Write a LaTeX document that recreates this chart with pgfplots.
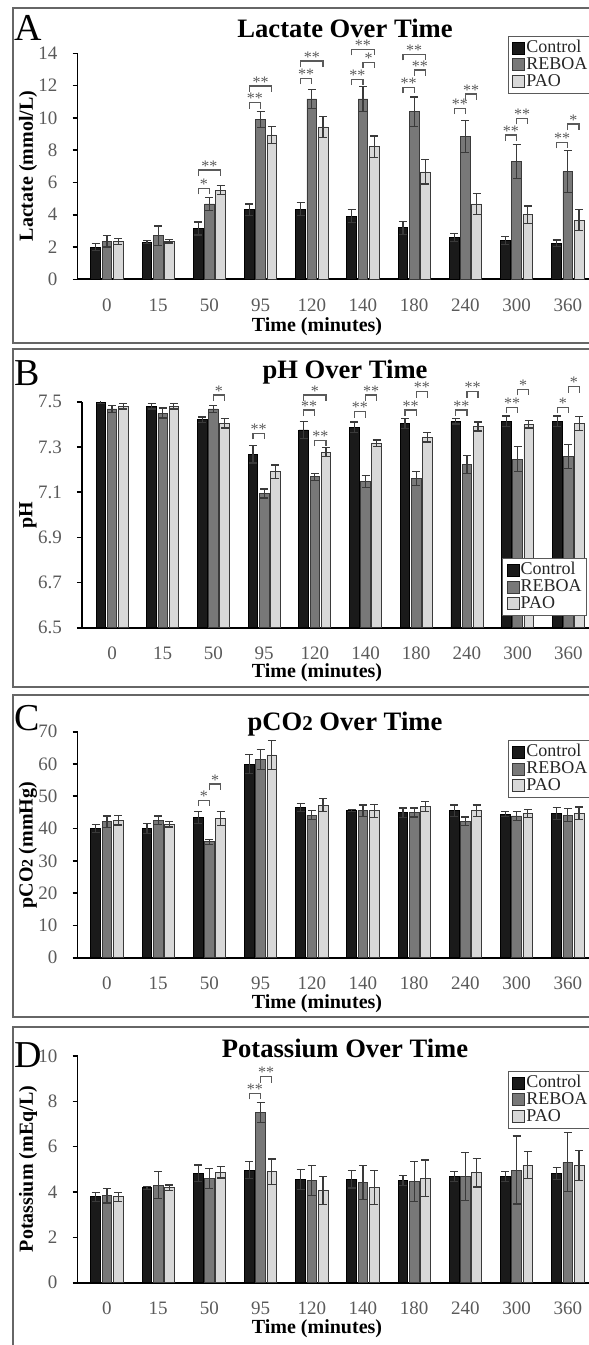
\documentclass[border=0pt]{standalone}
\usepackage{pgfplots}
\pgfplotsset{compat=1.18}
\usepackage{pgfplotstable}
\usepackage{fontspec}
\setmainfont{Liberation Serif}

\definecolor{cctrl}{HTML}{1A1A1A}
\definecolor{creboa}{HTML}{787878}
\definecolor{cpao}{HTML}{D8D8D8}
\definecolor{cedge}{HTML}{3A3A3A}
\definecolor{cgray}{HTML}{5A5A5A}

\pgfplotstableread{
x c ce r re p pe
0 2.0 0.2 2.35 0.35 2.35 0.2
1 2.3 0.08 2.7 0.6 2.35 0.1
2 3.15 0.4 4.67 0.4 5.53 0.27
3 4.3 0.37 9.9 0.48 8.94 0.52
4 4.34 0.4 11.17 0.6 9.44 0.64
5 3.92 0.38 11.17 0.77 8.22 0.66
6 3.2 0.4 10.39 0.9 6.65 0.75
7 2.6 0.25 8.84 1.0 4.67 0.66
8 2.4 0.25 7.29 1.07 4.0 0.54
9 2.23 0.2 6.67 1.3 3.67 0.66
}\dataA
\pgfplotstableread{
x c ce r re p pe
0 7.498 0.006 7.468 0.015 7.48 0.012
1 7.48 0.012 7.45 0.022 7.48 0.012
2 7.42 0.012 7.468 0.015 7.404 0.02
3 7.267 0.038 7.094 0.02 7.19 0.03
4 7.375 0.037 7.168 0.015 7.276 0.02
5 7.386 0.024 7.146 0.027 7.316 0.015
6 7.404 0.022 7.16 0.03 7.342 0.02
7 7.413 0.012 7.223 0.04 7.39 0.02
8 7.413 0.024 7.246 0.055 7.4 0.016
9 7.413 0.024 7.257 0.053 7.404 0.03
}\dataB
\pgfplotstableread{
x c ce r re p pe
0 40.06 1.3 42.1 1.8 42.6 1.5
1 40.0 1.6 42.6 1.3 41.3 0.8
2 43.4 1.9 35.9 0.8 43.2 2.2
3 60.0 3.0 61.4 3.1 62.8 4.6
4 46.5 1.3 44.2 1.5 47.3 2.0
5 45.7 0.3 45.5 1.8 45.5 2.0
6 44.9 1.5 45.0 1.4 46.8 1.5
7 45.5 1.8 42.3 1.3 45.5 1.8
8 44.5 0.7 43.9 1.5 44.7 1.3
9 44.7 1.8 44.2 1.9 44.7 2.0
}\dataC
\pgfplotstableread{
x c ce r re p pe
0 3.79 0.19 3.84 0.32 3.79 0.19
1 4.19 0.07 4.31 0.59 4.19 0.12
2 4.82 0.37 4.6 0.44 4.87 0.25
3 4.97 0.37 7.51 0.44 4.9 0.56
4 4.56 0.44 4.51 0.65 4.06 0.62
5 4.56 0.38 4.41 0.75 4.2 0.74
6 4.5 0.22 4.46 0.88 4.6 0.81
7 4.68 0.22 4.68 1.07 4.85 0.63
8 4.68 0.22 4.97 1.5 5.19 0.59
9 4.82 0.25 5.31 1.3 5.16 0.66
}\dataD

\newcommand{\brk}[4]{%
  \draw[cgray, line width=0.6pt] ([yshift=-3pt]axis cs:#1,#3) -- (axis cs:#1,#3) -- (axis cs:#2,#3) -- ([yshift=-3pt]axis cs:#2,#3);
  \path (axis cs:#1,#3) -- node[above, inner sep=0pt, yshift=-0.8pt, font=\fontsize{8}{8}\selectfont, text=cgray] {#4} (axis cs:#2,#3);}

\pgfplotsset{
  panel/.style={
    scale only axis, anchor=south west,
    axis x line*=bottom, axis y line*=left,
    axis line style={line width=0.9pt, black},
    xmin=-0.576, xmax=9.6, width=260.5pt, height=113pt,
    xtick={0,...,9}, xticklabels={0,15,50,95,120,140,180,240,300,360},
    xtick style={draw=none},
    tick align=outside, major tick length=2.5pt,
    ytick style={line width=0.8pt, black},
    tick label style={font=\fontsize{9.5}{9.5}\selectfont, text=cgray},
    xticklabel style={anchor=base, inner sep=0pt, yshift=-13.5pt},
    yticklabel style={xshift=-4pt},
    /pgf/number format/assume math mode=true,
    ybar, bar width=0.19,
    clip mode=individual,
    legend cell align=left,
    legend style={anchor=north west, draw=cgray, line width=0.6pt, fill=white,
      font=\fontsize{9}{9}\selectfont, inner xsep=2pt, inner ysep=1.6pt,
      nodes={inner sep=0.5pt, text height=6pt, text depth=1.4pt, text=black!85}},
    legend image code/.code={\draw[##1, line width=0.5pt] (0pt,-3pt) rectangle (6pt,3pt);},
  },
  eb/.style={error bars/.cd, y dir=both, y explicit,
    error bar style={line width=0.6pt, cedge},
    error mark options={rotate=90, mark size=2pt, line width=0.6pt, cedge}},
  barC/.style={fill=cctrl, draw=black, line width=0.4pt, bar shift=-0.22},
  barR/.style={fill=creboa, draw=cedge, line width=0.4pt, bar shift=0},
  barP/.style={fill=cpao, draw=cedge, line width=0.4pt, bar shift=0.22},
}

\tikzset{
  ttl/.style={anchor=base, inner sep=0pt, font=\bfseries\fontsize{13.3}{13.3}\selectfont},
  ltr/.style={anchor=base west, inner sep=0pt, font=\fontsize{19}{19}\selectfont},
  ylab/.style={rotate=90, inner sep=0pt, font=\bfseries\fontsize{10}{10}\selectfont},
  xlab/.style={anchor=base, inner sep=0pt, font=\bfseries\fontsize{10}{10}\selectfont},
}

\begin{document}
\begin{tikzpicture}
\useasboundingbox (0,0) rectangle (294.5pt,-672.5pt);
\clip (0,0) rectangle (294.5pt,-672.5pt);

% panel frames
\draw[black!60, line width=0.8pt] (6.35pt,-4pt) rectangle (300pt,-171.5pt);
\draw[black!60, line width=0.8pt] (6.35pt,-174.5pt) rectangle (300pt,-343.5pt);
\draw[black!60, line width=0.8pt] (6.35pt,-347.5pt) rectangle (300pt,-508.5pt);
\draw[black!60, line width=0.8pt] (6.35pt,-513.5pt) rectangle (300pt,-680pt);

% ---------- A ----------
\begin{axis}[panel, at={(38.75pt,-139.65pt)}, ymin=0, ymax=14, ytick={0,2,...,14},
  legend style={at={(0.826,1.077)}}]
\addplot[barC, eb] table[x=x, y=c, y error=ce] {\dataA};
\addplot[barR, eb] table[x=x, y=r, y error=re] {\dataA};
\addplot[barP, eb] table[x=x, y=p, y error=pe] {\dataA};
\legend{Control,REBOA,PAO}
\brk{1.78}{2}{5.64}{*}
\brk{1.78}{2.22}{6.77}{**}
\brk{2.78}{3}{10.94}{**}
\brk{2.78}{3.22}{11.98}{**}
\brk{3.78}{4}{12.45}{**}
\brk{3.78}{4.22}{13.52}{**}
\brk{4.78}{5}{12.4}{**}
\brk{5}{5.22}{13.45}{*}
\brk{4.78}{5.22}{14.25}{**}
\brk{5.78}{6}{11.9}{**}
\brk{6}{6.22}{12.97}{**}
\brk{5.78}{6.22}{13.94}{**}
\brk{6.78}{7}{10.6}{**}
\brk{7}{7.22}{11.48}{**}
\brk{7.78}{8}{8.94}{**}
\brk{8}{8.22}{9.97}{**}
\brk{8.78}{9}{8.49}{**}
\brk{9}{9.22}{9.62}{*}
\end{axis}

% ---------- B ----------
\begin{axis}[panel, at={(41pt,-313.85pt)}, xmin=-0.592, width=258.37pt,
  ymin=6.5, ymax=7.5, ytick={6.5,6.7,6.9,7.1,7.3,7.5},
  yticklabel style={/pgf/number format/.cd, fixed, fixed zerofill, precision=1},
  legend style={at={(0.813,0.308)}}]
\addplot[barC, eb] table[x=x, y=c, y error=ce] {\dataB};
\addplot[barR, eb] table[x=x, y=r, y error=re] {\dataB};
\addplot[barP, eb] table[x=x, y=p, y error=pe] {\dataB};
\legend{Control,REBOA,PAO}
\brk{2}{2.22}{7.53}{*}
\brk{2.78}{3}{7.36}{**}
\brk{3.78}{4}{7.463}{**}
\brk{3.78}{4.22}{7.53}{*}
\brk{4}{4.22}{7.33}{**}
\brk{4.78}{5}{7.456}{**}
\brk{5}{5.22}{7.53}{**}
\brk{5.78}{6}{7.463}{**}
\brk{6}{6.22}{7.545}{**}
\brk{6.78}{7}{7.463}{**}
\brk{7}{7.22}{7.545}{**}
\brk{7.78}{8}{7.475}{**}
\brk{8}{8.22}{7.555}{*}
\brk{8.78}{9}{7.475}{*}
\brk{9}{9.22}{7.566}{*}
\end{axis}

% ---------- C ----------
\begin{axis}[panel, at={(38.75pt,-478.85pt)}, ymin=0, ymax=70, ytick={0,10,...,70},
  legend style={at={(0.826,0.963)}}]
\addplot[barC, eb] table[x=x, y=c, y error=ce] {\dataC};
\addplot[barR, eb] table[x=x, y=r, y error=re] {\dataC};
\addplot[barP, eb] table[x=x, y=p, y error=pe] {\dataC};
\legend{Control,REBOA,PAO}
\brk{1.78}{2}{48.8}{*}
\brk{2}{2.22}{53.8}{*}
\end{axis}

% ---------- D ----------
\begin{axis}[panel, at={(38.75pt,-641.35pt)}, height=113.35pt, ymin=0, ymax=10, ytick={0,2,...,10},
  legend style={at={(0.826,0.934)}}]
\addplot[barC, eb] table[x=x, y=c, y error=ce] {\dataD};
\addplot[barR, eb] table[x=x, y=r, y error=re] {\dataD};
\addplot[barP, eb] table[x=x, y=p, y error=pe] {\dataD};
\legend{Control,REBOA,PAO}
\brk{2.78}{3}{8.35}{**}
\brk{3}{3.22}{9.09}{**}
\end{axis}

% titles
\node[ttl] at (172.5pt,-18.6pt) {Lactate Over Time};
\node[ttl] at (172.5pt,-189pt) {pH Over Time};
\node[ttl] at (172.5pt,-365pt) {pCO{\fontsize{10.5}{10.5}\selectfont 2} Over Time};
\node[ttl] at (172.5pt,-528.5pt) {Potassium Over Time};

% panel letters
\node[ltr] at (7pt,-20pt) {A};
\node[ltr] at (7pt,-192.5pt) {B};
\node[ltr] at (7pt,-365pt) {C};
\node[ltr] at (7pt,-533.5pt) {D};

% y labels
\node[ylab] at (14pt,-83pt) {Lactate (mmol/L)};
\node[ylab] at (14pt,-257.5pt) {pH};
\node[ylab] at (14pt,-422.5pt) {pCO{\fontsize{8}{8}\selectfont 2} (mmHg)};
\node[ylab] at (14pt,-584.5pt) {Potassium (mEq/L)};

% x labels
\node[xlab] at (158.5pt,-165.75pt) {Time (minutes)};
\node[xlab] at (158.5pt,-338.85pt) {Time (minutes)};
\node[xlab] at (158.5pt,-504.35pt) {Time (minutes)};
\node[xlab] at (158.5pt,-666.85pt) {Time (minutes)};
\end{tikzpicture}
\end{document}
